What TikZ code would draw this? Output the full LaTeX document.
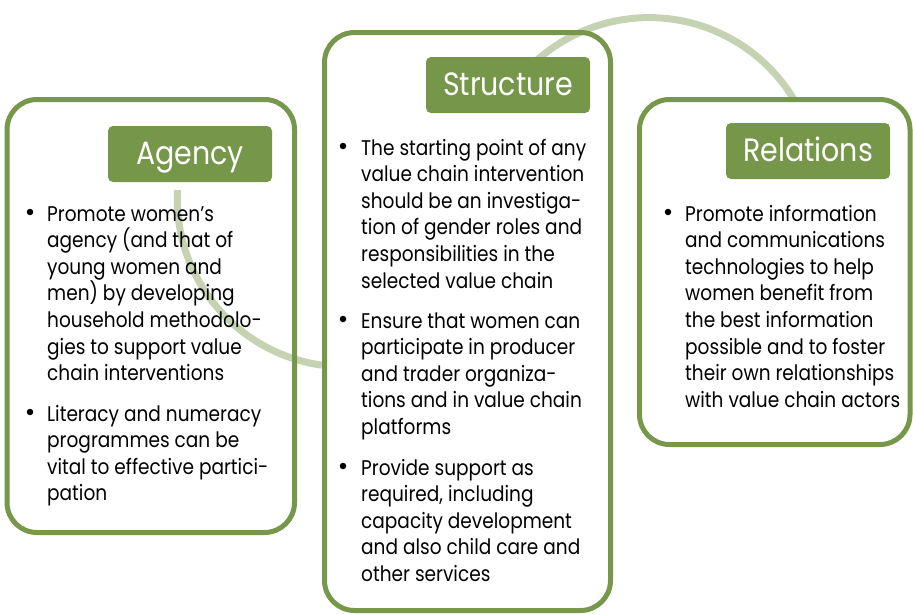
\documentclass[tikz,border=0pt]{standalone}
\usepackage{tikz}
\usepackage{fontspec}
\setmainfont{Poppins}
\newfontfamily\probe{Poppins}
\newlength\mw
\newlength\mh
\settowidth\mw{\probe\fontsize{20pt}{24pt}\selectfont The starting point of any}
\settoheight\mh{\probe\fontsize{20pt}{24pt}\selectfont H}
\pgfmathsetmacro\bsz{20*14.8/\mh}
\pgfmathsetmacro\bstr{225/(\mw*\bsz/20)}
\newfontfamily\bodyfam{Poppins}[FakeStretch=\bstr]
\settowidth\mw{\probe\fontsize{30pt}{36pt}\selectfont Structure}
\settoheight\mh{\probe\fontsize{30pt}{36pt}\selectfont H}
\pgfmathsetmacro\tsz{30*22.5/\mh}
\pgfmathsetmacro\tstr{130/(\mw*\tsz/30)}
\newfontfamily\titlefam{Poppins}[FakeStretch=\tstr]
\definecolor{boxgreen}{HTML}{77974B}
\definecolor{tabgreen}{HTML}{76964A}
\begin{document}
\begin{tikzpicture}[x=1pt,y=-1pt,
  panel/.style={draw=boxgreen, line width=5pt, fill=white, rounded corners=30pt},
  tab/.style={fill=tabgreen, rounded corners=5pt, inner sep=0pt,
    minimum width=164pt, minimum height=56pt, text height=20pt, text depth=0pt,
    text=white, font=\titlefam\fontsize{\tsz pt}{\tsz pt}\selectfont},
  ring/.style={draw=boxgreen, line width=7pt, opacity=0.42},
  item/.style={anchor=base west, inner sep=0pt, font=\bodyfam\fontsize{\bsz pt}{26.6pt}\selectfont},
  dot/.style={circle, fill=black, inner sep=0pt, minimum size=6.5pt}
]
\useasboundingbox (0,0) rectangle (913,614);
\fill[white] (0,0) rectangle (913,614);

% panels
\draw[panel] (7,99.5) rectangle (294.5,532.5);
\draw[panel] (324.5,32.5) rectangle (610.5,610.5);
\draw[panel] (639.5,99.5) rectangle (910,444.5);

% light ring segments
\draw[ring] (177.5,190) arc[start angle=177, end angle=262, radius=168pt];
\draw[ring] (536,61) arc[start angle=132, end angle=31, radius=169pt];

% tabs with titles
\node[tab] (agency) at (190,154) {Agency};
\node[tab] (structure) at (508,85) {Structure};
\node[tab] (relations) at (808,151) {Relations};

% Agency items
\node[dot] (ab1) at (30,212) {};
\node[item] (a1) at (47,221) {\parbox[t]{245pt}{Promote women’s\\agency (and that of\\young women and\\men) by developing\\household methodolo-\\gies to support value\\chain interventions}};
\node[dot] (ab2) at (30,412) {};
\node[item] (a2) at (47,421) {\parbox[t]{245pt}{Literacy and numeracy\\programmes can be\\vital to effective partici-\\pation}};

% Structure items
\node[dot] (sb1) at (343,146) {};
\node[item] (s1) at (361,155) {\parbox[t]{245pt}{The starting point of any\\value chain intervention\\should be an investiga-\\tion of gender roles and\\responsibilities in the\\selected value chain}};
\node[dot] (sb2) at (343,319) {};
\node[item] (s2) at (361,328) {\parbox[t]{245pt}{Ensure that women can\\participate in producer\\and trader organiza-\\tions and in value chain\\platforms}};
\node[dot] (sb3) at (343,466) {};
\node[item] (s3) at (361,475) {\parbox[t]{245pt}{Provide support as\\required, including\\capacity development\\and also child care and\\other services}};

% Relations items
\node[dot] (rb1) at (668,212) {};
\node[item] (r1) at (685,221) {\parbox[t]{225pt}{Promote information\\and communications\\technologies to help\\women benefit from\\the best information\\possible and to foster\\their own relationships\\with value chain actors}};
\end{tikzpicture}
\end{document}
